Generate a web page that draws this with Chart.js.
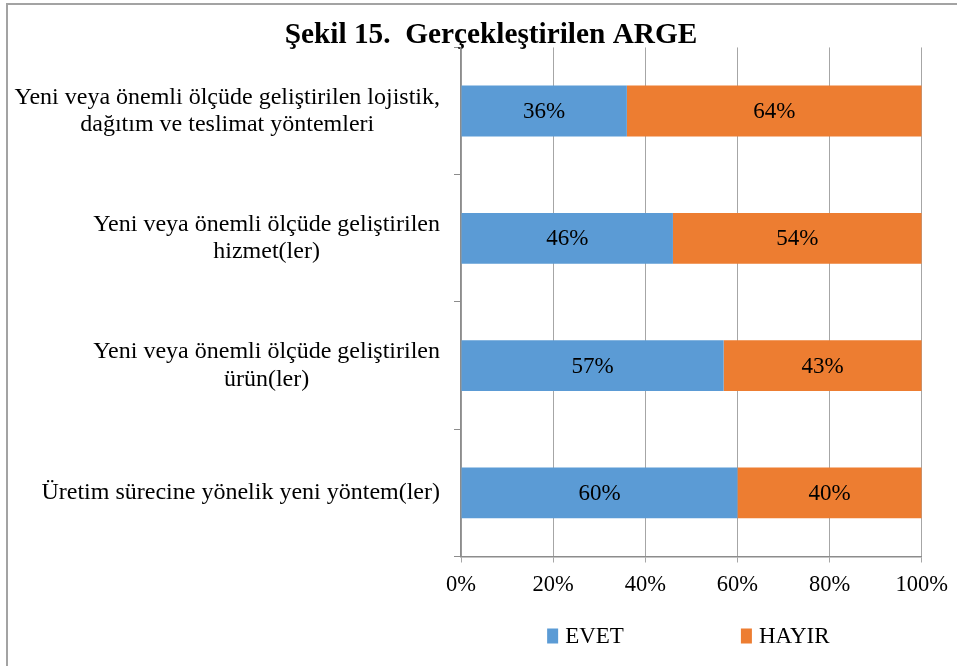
<!DOCTYPE html>
<html>
<head>
<meta charset="utf-8">
<script src="https://cdn.jsdelivr.net/npm/chart.js@4/dist/chart.umd.min.js"></script>
<style>
  html, body { margin: 0; padding: 0; background: #fff; overflow: hidden; }
  #cerceve { position: absolute; left: 6px; top: 3px; width: 1200px; height: 1200px; border: 2px solid #a3a3a3; }
  #grafik { position: absolute; left: 0; top: 0; }
</style>
</head>
<body>
<div id="cerceve"></div>
<canvas id="grafik" width="957" height="666"></canvas>
<script>
const kategoriler = [
    ["Yeni veya önemli ölçüde geliştirilen lojistik,", "dağıtım ve teslimat yöntemleri"],
    ["Yeni veya önemli ölçüde geliştirilen", "hizmet(ler)"],
    ["Yeni veya önemli ölçüde geliştirilen", "ürün(ler)"],
    ["Üretim sürecine yönelik yeni yöntem(ler)"]
];
const evet = [36, 46, 57, 60];
const hayir = [64, 54, 43, 40];
const seriAdlari = ["EVET", "HAYIR"];
const renkler = ["#5B9BD5", "#ED7D31"];
const eksenDegerleri = [0, 20, 40, 60, 80, 100];

const yaziTipi = "'Liberation Serif', 'Times New Roman', serif";

// kategori etiketleri: satirlar ortali, blok saga yasli
const kategoriEtiketleri = {
    id: "kategoriEtiketleri",
    afterDraw(chart) {
        const ctx = chart.ctx;
        const y = chart.scales.y;
        ctx.save();
        ctx.font = "24px " + yaziTipi;
        ctx.fillStyle = "#000";
        ctx.textAlign = "center";
        ctx.textBaseline = "middle";
        kategoriler.forEach((satirlar, i) => {
            const merkez = y.getPixelForTick(i);
            const genislik = Math.max(...satirlar.map(s => ctx.measureText(s).width));
            const x = y.right - 21 - genislik / 2;
            satirlar.forEach((s, j) => {
                ctx.fillText(s, x, merkez + (j - (satirlar.length - 1) / 2) * 27.5);
            });
        });
        ctx.restore();
    }
};

// cubuk ustu yuzde etiketleri
const degerEtiketleri = {
    id: "degerEtiketleri",
    afterDatasetsDraw(chart) {
        const ctx = chart.ctx;
        ctx.save();
        ctx.font = "23px " + yaziTipi;
        ctx.fillStyle = "#000";
        ctx.textAlign = "center";
        ctx.textBaseline = "middle";
        chart.data.datasets.forEach((ds, d) => {
            chart.getDatasetMeta(d).data.forEach((bar, i) => {
                ctx.fillText(ds.data[i] + "%", (bar.x + bar.base) / 2, bar.y + 1);
            });
        });
        ctx.restore();
    }
};

// alt lejant, cizim alaninin ortasina gore
const lejant = {
    id: "lejant",
    afterDraw(chart) {
        const ctx = chart.ctx;
        const alan = chart.chartArea;
        const kutuG = 11, kutuY = 15, bosluk = 7, aralik = 117;
        const yMerkez = 636;
        ctx.save();
        ctx.font = "23px " + yaziTipi;
        ctx.textBaseline = "middle";
        ctx.textAlign = "left";
        const ogeler = chart.data.datasets.map(ds => ({
            ad: ds.label,
            renk: ds.backgroundColor,
            g: kutuG + bosluk + ctx.measureText(ds.label).width
        }));
        const toplam = ogeler.reduce((t, o) => t + o.g, 0) + aralik * (ogeler.length - 1);
        let x = (alan.left + alan.right) / 2 - toplam / 2 - 3;
        ogeler.forEach(o => {
            ctx.fillStyle = o.renk;
            ctx.fillRect(x, yMerkez - kutuY / 2, kutuG, kutuY);
            ctx.fillStyle = "#000";
            ctx.fillText(o.ad, x + kutuG + bosluk, yMerkez + 1);
            x += o.g + aralik;
        });
        ctx.restore();
    }
};

const ctx = document.getElementById("grafik").getContext("2d");

new Chart(ctx, {
    type: "bar",
    data: {
        labels: kategoriler,
        datasets: [
            { label: seriAdlari[0], data: evet, backgroundColor: renkler[0] },
            { label: seriAdlari[1], data: hayir, backgroundColor: renkler[1] }
        ]
    },
    options: {
        indexAxis: "y",
        responsive: false,
        animation: false,
        devicePixelRatio: 1,
        layout: { padding: { left: 60, right: 35, top: 12, bottom: 58.5 } },
        datasets: { bar: { categoryPercentage: 0.4, barPercentage: 1 } },
        scales: {
            x: {
                stacked: true,
                min: 0,
                max: 100,
                afterBuildTicks: scale => {
                    scale.ticks = eksenDegerleri.map(v => ({ value: v }));
                },
                ticks: {
                    callback: v => v + "%",
                    color: "#000",
                    padding: 9,
                    maxRotation: 0,
                    font: { family: yaziTipi, size: 22.5 }
                },
                grid: { color: "#a6a6a6", tickLength: 6 },
                border: { color: "#8c8c8c", width: 1.5 }
            },
            y: {
                stacked: true,
                afterFit: scale => { scale.width = 401; },
                ticks: { display: false },
                grid: { drawOnChartArea: false, tickLength: 7, color: "#8c8c8c" },
                border: { color: "#8c8c8c", width: 1.5 }
            }
        },
        plugins: {
            legend: { display: false },
            tooltip: { enabled: false },
            title: {
                display: true,
                text: "Şekil 15.  Gerçekleştirilen ARGE",
                color: "#000",
                padding: { top: 12, bottom: 0 },
                font: { family: yaziTipi, size: 29.3, weight: "bold", lineHeight: 0.8 }
            }
        }
    },
    plugins: [kategoriEtiketleri, degerEtiketleri, lejant]
});
</script>
</body>
</html>
